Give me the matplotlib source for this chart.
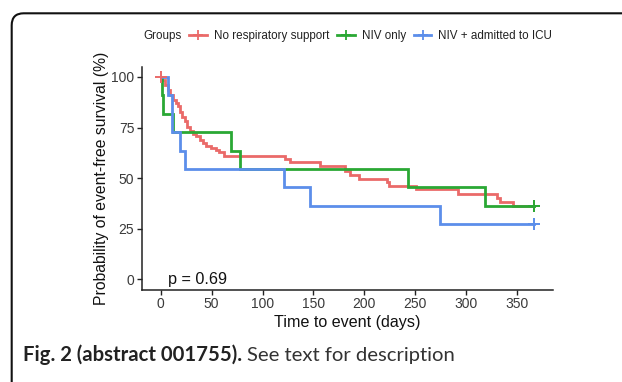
import matplotlib
matplotlib.use("Agg")
import matplotlib.pyplot as plt
from matplotlib.patches import FancyBboxPatch
from matplotlib.lines import Line2D
from matplotlib.transforms import IdentityTransform

plt.rcParams['font.family'] = ['Liberation Sans', 'DejaVu Sans']

# ---- data ----
groups = ["No respiratory support", "NIV only", "NIV + admitted to ICU"]
colors = ["#EA6A69", "#2AA834", "#5C8EEA"]

red_time = [0, 0.7, 3.9, 7.2, 9.5, 12, 14.7, 17, 19.2, 21.2, 23.5, 25.7, 28.3, 31.6,
            34.9, 38.1, 41.4, 44.7, 49.6, 54.4, 57.7, 62.6, 122, 127, 156, 181, 186,
            195, 222, 224, 251, 292, 330, 333, 346]
red_surv = [100, 98.5, 96.1, 93.3, 91.1, 88.7, 87.0, 85.4, 82.9, 80.4, 78.0, 75.5, 73.5, 71.9,
            70.6, 69.0, 67.3, 66.0, 64.9, 64.0, 62.7, 61.1, 59.7, 57.8, 55.8, 53.4, 51.8,
            49.8, 48.0, 46.0, 44.4, 42.4, 40.3, 38.1, 36.4]

green_time = [0, 1.6, 2.3, 12, 69.5, 78, 243, 319]
green_surv = [100, 90.9, 81.8, 72.7, 63.6, 54.5, 45.5, 36.4]

blue_time = [0, 7.2, 11.4, 18.6, 24.1, 121, 147, 274]
blue_surv = [100, 90.9, 72.7, 63.6, 54.5, 45.5, 36.4, 27.3]

end_time = [367, 367, 367]
red_censor_time = [0]
red_censor_surv = [100]

x_ticks = [0, 50, 100, 150, 200, 250, 300, 350]
y_ticks = [0, 25, 50, 75, 100]
p_text = "p = 0.69"
caption_bold = "Fig. 2 (abstract 001755)."
caption_rest = "See text for description"

# ---- figure ----
W, H = 622, 382
fig = plt.figure(figsize=(W / 100, H / 100), dpi=100)

# outer frame with rounded top-left corner
frame = FancyBboxPatch((11.7, -100), 800, (H - 13.3) + 100,
                       boxstyle="round,pad=0,rounding_size=12",
                       transform=IdentityTransform(), fill=False,
                       edgecolor="#111111", linewidth=1.5, clip_on=False)
fig.add_artist(frame)

ax = fig.add_axes([142 / W, 1 - 289.5 / H, (553 - 142) / W, (289.5 - 66.8) / H])

series = [(red_time, red_surv), (green_time, green_surv), (blue_time, blue_surv)]
for (t, s), c, te in zip(series, colors, end_time):
    tt = list(t) + [te]
    ss = list(s) + [s[-1]]
    ax.step(tt, ss, where="post", color=c, lw=2.0, solid_joinstyle="miter")
    ax.plot([te], [s[-1]], marker="+", color=c, ms=8, mew=1.4, ls="none")
ax.plot(red_censor_time, red_censor_surv, marker="+", color=colors[0], ms=8, mew=1.4, ls="none")

ax.set_xlim(-18.4, 385.4)
ax.set_ylim(-5, 105)
ax.set_xticks(x_ticks)
ax.set_yticks(y_ticks)
ax.tick_params(axis="both", direction="out", length=3.5, width=1, color="#222222",
               labelsize=10, labelcolor="#3a3a3a", pad=2)
for side in ["top", "right"]:
    ax.spines[side].set_visible(False)
for side in ["left", "bottom"]:
    ax.spines[side].set_linewidth(1.1)
    ax.spines[side].set_color("#222222")

ax.set_xlabel("Time to event (days)", fontsize=11.6, color="#111111", labelpad=3)
ax.set_ylabel("Probability of event-free survival (%)", fontsize=11.3, color="#111111", labelpad=1.5)

ax.text(7, -2.5, p_text, fontsize=11.7, color="#111111", ha="left", va="baseline")

# legend
handles = [Line2D([0], [0], color=c, lw=2.0, marker="+", ms=7, mew=1.3) for c in colors]
fig.text(143.3 / W, 1 - 35.7 / H, "Groups", fontsize=8.4, color="#222222", ha="left", va="center")
leg = fig.legend(handles, groups, loc="center left", bbox_to_anchor=(189 / W, 1 - 35.7 / H),
                 bbox_transform=fig.transFigure, ncol=3, frameon=False, fontsize=8.4,
                 handlelength=1.5, handletextpad=0.6, columnspacing=0.7,
                 borderpad=0, borderaxespad=0)
for txt in leg.get_texts():
    txt.set_color("#222222")

# caption, sized so that its width matches the reference (x 23 -> 456 px)
cap_font = ["Lato", "DejaVu Sans"]
cap_y = 1 - 361 / H
fs = 13.0
cap1 = fig.text(23 / W, cap_y, caption_bold, fontsize=fs, family=cap_font,
                weight="bold", color="#222222", ha="left", va="baseline")
cap2 = fig.text(0, cap_y, caption_rest, fontsize=fs, family=cap_font,
                color="#333333", ha="left", va="baseline")
r = fig.canvas.get_renderer()
for _ in range(3):
    b1 = cap1.get_window_extent(r)
    cap2.set_x((b1.x1 + 0.35 * fs) / W)
    b2 = cap2.get_window_extent(r)
    total = b2.x1 - b1.x0
    fs = fs * (456 - 23) / total
    cap1.set_fontsize(fs)
    cap2.set_fontsize(fs)
b1 = cap1.get_window_extent(r)
cap2.set_x((b1.x1 + 0.35 * fs) / W)

fig.savefig("out.png", dpi=100)
